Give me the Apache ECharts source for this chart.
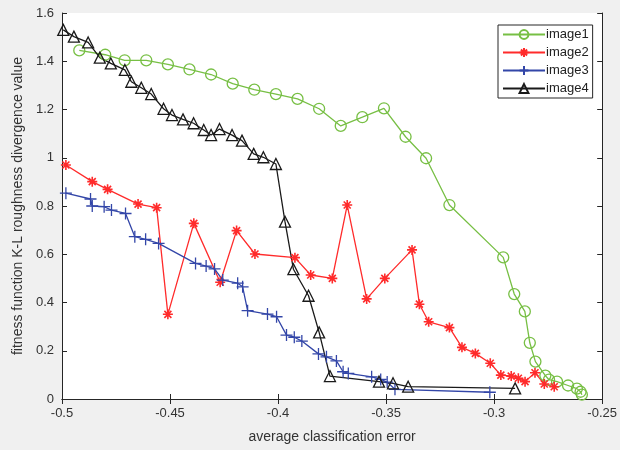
<!DOCTYPE html>
<html><head><meta charset="utf-8">
<script src="https://cdn.jsdelivr.net/npm/echarts@6/dist/echarts.min.js"></script>
<style>html,body{margin:0;padding:0;background:#f0f0f0}#c{width:620px;height:450px}</style>
</head><body><div id="c"></div>
<script>
const seriesNames = ['image1','image2','image3','image4'];
const xTicks = [-0.5,-0.45,-0.4,-0.35,-0.3,-0.25];
const yTicks = [0,0.2,0.4,0.6,0.8,1,1.2,1.4,1.6];
const image1 = [[-0.492,1.445],[-0.480,1.427],[-0.471,1.404],[-0.461,1.404],[-0.451,1.387],[-0.441,1.366],[-0.431,1.345],[-0.421,1.307],[-0.411,1.282],[-0.401,1.264],[-0.391,1.244],[-0.381,1.203],[-0.371,1.132],[-0.361,1.168],[-0.351,1.205],[-0.341,1.087],[-0.3315,0.998],[-0.3207,0.804],[-0.2958,0.587],[-0.2907,0.435],[-0.2858,0.363],[-0.2835,0.233],[-0.2809,0.155],[-0.2763,0.097],[-0.2746,0.080],[-0.2709,0.072],[-0.2658,0.056],[-0.2617,0.043],[-0.2600,0.030],[-0.2594,0.018]];
const image2 = [[-0.4982,0.970],[-0.486,0.901],[-0.4789,0.869],[-0.4648,0.808],[-0.4562,0.793],[-0.451,0.351],[-0.439,0.728],[-0.4268,0.484],[-0.4192,0.698],[-0.4107,0.601],[-0.3922,0.586],[-0.3849,0.514],[-0.3749,0.500],[-0.368,0.804],[-0.359,0.415],[-0.3506,0.500],[-0.338,0.618],[-0.3346,0.393],[-0.3303,0.320],[-0.3207,0.296],[-0.3149,0.214],[-0.3087,0.189],[-0.3018,0.148],[-0.2969,0.099],[-0.2921,0.095],[-0.2888,0.086],[-0.2857,0.072],[-0.2811,0.109],[-0.2768,0.062],[-0.2722,0.051]];
const image3 = [[-0.4982,0.853],[-0.4868,0.829],[-0.486,0.800],[-0.4805,0.797],[-0.4771,0.783],[-0.4706,0.769],[-0.4663,0.673],[-0.4613,0.662],[-0.4553,0.645],[-0.4382,0.562],[-0.4333,0.551],[-0.4294,0.539],[-0.4256,0.493],[-0.4187,0.480],[-0.4164,0.465],[-0.4141,0.366],[-0.4049,0.352],[-0.4007,0.341],[-0.3961,0.265],[-0.3925,0.256],[-0.3890,0.240],[-0.3813,0.187],[-0.3776,0.175],[-0.373,0.158],[-0.3699,0.113],[-0.3675,0.106],[-0.3567,0.092],[-0.3525,0.081],[-0.3495,0.070],[-0.3459,0.040],[-0.302,0.028]];
const image4 = [[-0.4994,1.530],[-0.4945,1.502],[-0.4879,1.478],[-0.4825,1.415],[-0.4774,1.391],[-0.4709,1.364],[-0.4679,1.315],[-0.4633,1.290],[-0.4587,1.264],[-0.453,1.203],[-0.4491,1.177],[-0.444,1.159],[-0.4391,1.143],[-0.4344,1.115],[-0.431,1.094],[-0.4271,1.119],[-0.4213,1.094],[-0.4167,1.071],[-0.4113,1.016],[-0.4068,1.002],[-0.401,0.974],[-0.3968,0.735],[-0.3929,0.538],[-0.3859,0.428],[-0.381,0.276],[-0.376,0.095],[-0.3533,0.072],[-0.3468,0.065],[-0.3398,0.051],[-0.2903,0.044]];

const FONT = '"Liberation Sans", Arial, sans-serif';
const axisCol = '#262626';
const chart = echarts.init(document.getElementById('c'), null, {renderer:'canvas'});
const star = 'path://M0,-10L0,10M-10,0L10,0M-7,-7L7,7M-7,7L7,-7';
const plus = 'path://M0,-10L0,10M-10,0L10,0';
function mk(name, data, color, symbol, size, fill, bw) {
  return {
    name, type:'line', data, symbol, symbolSize:size, showSymbol:true,
    lineStyle:{color, width:1.3},
    itemStyle:{color: fill, borderColor:color, borderWidth:bw},
    emphasis:{disabled:true}, animation:false
  };
}
const xAxisBase = {type:'value', min:xTicks[0], max:xTicks[xTicks.length-1], interval:0.05,
  axisLine:{show:true, lineStyle:{color:axisCol, width:1}},
  axisTick:{show:true, inside:true, length:5, lineStyle:{color:axisCol}},
  splitLine:{show:false}};
const yAxisBase = {type:'value', min:yTicks[0], max:yTicks[yTicks.length-1], interval:0.2,
  axisLine:{show:true, lineStyle:{color:axisCol, width:1}},
  axisTick:{show:true, inside:true, length:5, lineStyle:{color:axisCol}},
  splitLine:{show:false}};
chart.setOption({
  backgroundColor:'#f0f0f0',
  animation:false,
  textStyle:{fontFamily:FONT},
  grid:{left:62, right:16, top:13, bottom:51, show:true, backgroundColor:'#ffffff', borderWidth:0},
  legend:{
    orient:'vertical', left:498, top:25, data:seriesNames,
    itemWidth:42, itemHeight:11, itemGap:5,
    padding:[3,4,3,4],
    backgroundColor:'#ffffff', borderColor:axisCol, borderWidth:1, borderRadius:0,
    textStyle:{fontFamily:FONT, fontSize:13, color:'#222', padding:[0,0,0,-4]}
  },
  xAxis:[
    Object.assign({}, xAxisBase, {position:'bottom', name:'average classification error', nameLocation:'middle', nameGap:31,
      nameTextStyle:{fontFamily:FONT, fontSize:14, color:'#333'},
      axisLabel:{show:true, fontFamily:FONT, fontSize:13, color:'#333', margin:8}}),
    Object.assign({}, xAxisBase, {position:'top', axisLabel:{show:false}})
  ],
  yAxis:[
    Object.assign({}, yAxisBase, {position:'left', name:'fitness function K-L roughness divergence value', nameLocation:'middle', nameGap:37,
      nameTextStyle:{fontFamily:FONT, fontSize:14, color:'#333'},
      axisLabel:{show:true, fontFamily:FONT, fontSize:13, color:'#333', margin:8}}),
    Object.assign({}, yAxisBase, {position:'right', axisLabel:{show:false}})
  ],
  series:[
    mk(seriesNames[0], image1, '#77bf44', 'circle', 11, 'rgba(255,255,255,0)', 1.3),
    mk(seriesNames[1], image2, '#ff2b2b', star, 10, '#ff2b2b', 1.6),
    mk(seriesNames[2], image3, '#3346a8', plus, 12, '#3346a8', 1.3),
    mk(seriesNames[3], image4, '#1a1a1a', 'triangle', 11, 'rgba(255,255,255,0)', 1.3)
  ]
});
</script></body></html>
